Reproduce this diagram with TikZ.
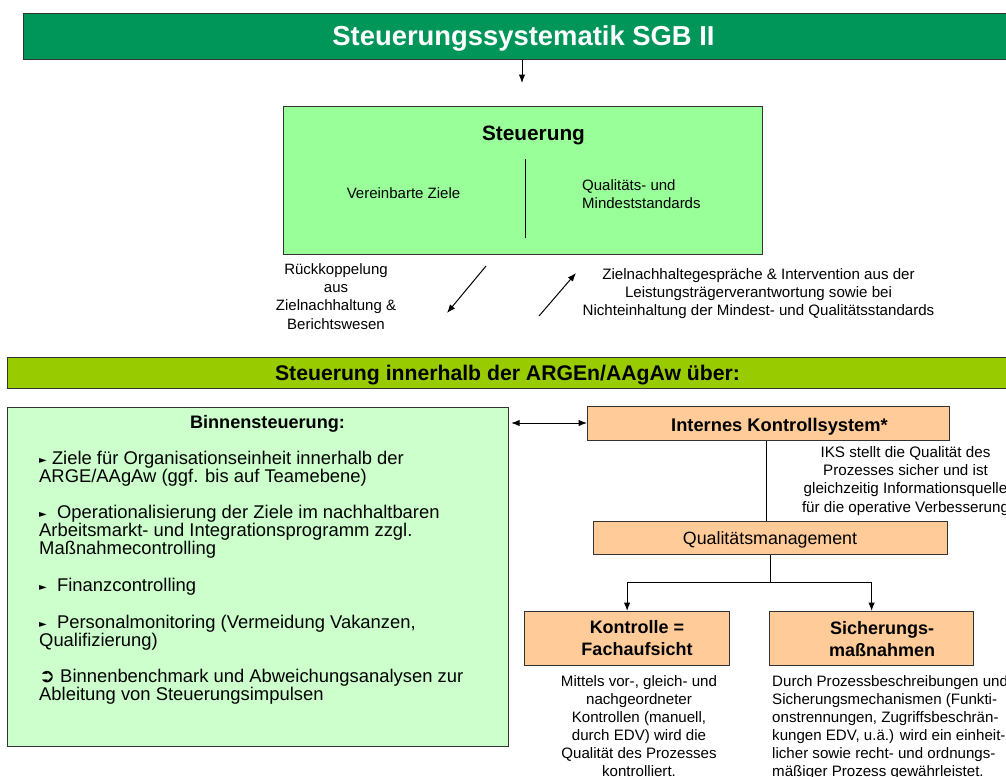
\documentclass[tikz,border=0pt]{standalone}
\usepackage{fontspec}
\setmainfont{Liberation Sans}
\newfontfamily\symf{DejaVu Sans}
\usetikzlibrary{arrows.meta}
\definecolor{titlegreen}{RGB}{0,150,90}
\definecolor{steugreen}{RGB}{153,255,153}
\definecolor{bargreen}{RGB}{153,204,0}
\definecolor{binngreen}{RGB}{204,255,204}
\definecolor{peach}{RGB}{255,204,153}
\tikzset{
  box/.style={draw=black!80, line width=1.2pt, inner sep=0pt, anchor=north west},
  txt/.style={inner sep=0pt, anchor=base},
  arr/.style={line width=1pt, -{Latex[length=8.5pt,width=6.5pt]}},
  dblarr/.style={line width=1pt, {Latex[length=8.5pt,width=6.5pt]}-{Latex[length=8.5pt,width=6.5pt]}},
  plain/.style={line width=1pt},
}
\newcommand{\fs}[2]{\fontsize{#1}{#2}\selectfont}
\newcommand{\bul}{{\symf\fs{10}{10}\raisebox{1pt}{►}}}
\begin{document}
\begin{tikzpicture}[x=1pt,y=-1pt]
\useasboundingbox (0,0) rectangle (1006,776);
\clip (0,0) rectangle (1006,776);
\fill[white] (0,0) rectangle (1006,776);
% boxes
\node[box, fill=titlegreen, minimum width=1000pt, minimum height=46pt] (title) at (23,13) {};
\node[box, fill=steugreen, minimum width=479pt, minimum height=148pt] (steu) at (283,106) {};
\node[box, fill=bargreen, minimum width=1010pt, minimum height=31pt] (bar) at (7,357) {};
\node[box, fill=binngreen, minimum width=501pt, minimum height=339pt] (binnen) at (7,407) {};
\node[box, fill=peach, minimum width=362pt, minimum height=34pt] (iks) at (587,406) {};
\node[box, fill=peach, minimum width=354pt, minimum height=33pt] (qm) at (593,521) {};
\node[box, fill=peach, minimum width=205pt, minimum height=54pt] (kon) at (524,611) {};
\node[box, fill=peach, minimum width=204pt, minimum height=54pt] (sic) at (769,611) {};
% texts (multi-line nodes: base = baseline of last line)
\node[txt, text=white, font=\bfseries\fs{27.4}{30}] (titletxt) at (523.5,46) {Steuerungssystematik SGB II};
\node[txt, font=\bfseries\fs{20.8}{24}] (steutxt) at (533.5,140.5) {Steuerung};
\node[txt, font=\fs{15}{18}] (ziele) at (403.5,198.7) {Vereinbarte Ziele};
\node[txt, anchor=base west, align=left, font=\fs{15}{17.7}] (quali) at (582,208.2) {Qualitäts- und\\Mindeststandards};
\node[txt, align=center, font=\fs{15}{18.2}] (rueck) at (336,329.1) {Rückkoppelung\\aus\\Zielnachhaltung \&\\Berichtswesen};
\node[txt, align=center, font=\fs{15.1}{18}] (zielg) at (758.5,315.5) {Zielnachhaltegespräche \& Intervention aus der\\Leistungsträgerverantwortung sowie bei\\Nichteinhaltung der Mindest- und Qualitätsstandards};
\node[txt, font=\bfseries\fs{21.2}{24}] (bartxt) at (507.5,380) {Steuerung innerhalb der ARGEn/AAgAw über:};
\node[txt, font=\bfseries\fs{18.1}{20}] (binntxt) at (267.5,428) {Binnensteuerung:};
\node[txt, anchor=base west, align=left, font=\fs{18.4}{17}] (b1) at (39,482.5) {\bul\ Ziele für Organisationseinheit innerhalb der\\ARGE/AAgAw (ggf. bis auf Teamebene)};
\node[txt, anchor=base west, align=left, font=\fs{18.4}{17}] (b2) at (39,554.5) {\bul\ \ Operationalisierung der Ziele im nachhaltbaren\\Arbeitsmarkt- und Integrationsprogramm zzgl.\\Maßnahmecontrolling};
\node[txt, anchor=base west, align=left, font=\fs{18.4}{17}] (b3) at (39,591) {\bul\ \ Finanzcontrolling};
\node[txt, anchor=base west, align=left, font=\fs{18.4}{17}] (b4) at (39,646.5) {\bul\ \ Personalmonitoring (Vermeidung Vakanzen,\\Qualifizierung)};
\node[txt, anchor=base west, align=left, font=\fs{18.4}{17}] (b5) at (39,700.5) {{\symf\fs{19}{19}➲}\ Binnenbenchmark und Abweichungsanalysen zur\\Ableitung von Steuerungsimpulsen};
\node[txt, font=\bfseries\fs{18.3}{20}] (ikstxt) at (779.5,431) {Internes Kontrollsystem*};
\node[txt, align=center, font=\fs{15.2}{18.2}] (iksdesc) at (905.5,512.1) {IKS stellt die Qualität des\\Prozesses sicher und ist\\gleichzeitig Informationsquelle\\für die operative Verbesserung};
\node[txt, font=\fs{17.8}{20}] (qmtxt) at (770,544.5) {Qualitätsmanagement};
\node[txt, align=center, font=\bfseries\fs{18}{22}] (kontxt) at (637,655.5) {Kontrolle =\\Fachaufsicht};
\node[txt, align=center, font=\bfseries\fs{18}{22}] (sictxt) at (882,656.5) {Sicherungs-\\maßnahmen};
\node[txt, align=center, font=\fs{15.1}{18}] (kondesc) at (639,776.5) {Mittels vor-, gleich- und\\nachgeordneter\\Kontrollen (manuell,\\durch EDV) wird die\\Qualität des Prozesses\\kontrolliert.};
\node[txt, anchor=base west, align=left, font=\fs{15.1}{18}] (sicdesc) at (772,776.5) {Durch Prozessbeschreibungen und\\Sicherungsmechanismen (Funkti-\\onstrennungen, Zugriffsbeschrän-\\kungen EDV, u.ä.) wird ein einheit-\\licher sowie recht- und ordnungs-\\mäßiger Prozess gewährleistet.};
% inner divider of Steuerung box
\draw[plain] (525,159) -- (525,238);
% connectors
\coordinate (a1e) at (522,83);
\draw[arr] (title.south -| a1e) -- (a1e);
\coordinate (d1s) at (486,266);
\coordinate (d1e) at (447,313);
\draw[arr] (d1s) -- (d1e);
\coordinate (d2s) at (539,316);
\coordinate (d2e) at (576,273);
\draw[arr] (d2s) -- (d2e);
\draw[dblarr, shorten <=2pt] (binnen.east |- 0,423) -- (iks.west |- 0,423);
\coordinate (ikx) at (766,0);
\draw[plain] (iks.south -| ikx) -- (qm.north -| ikx);
\coordinate (fork) at (770,582);
\draw[plain] (qm.south -| fork) -- (fork);
\draw[arr] (fork) -| (kon.north);
\draw[arr] (fork) -| (sic.north);
\end{tikzpicture}
\end{document}
